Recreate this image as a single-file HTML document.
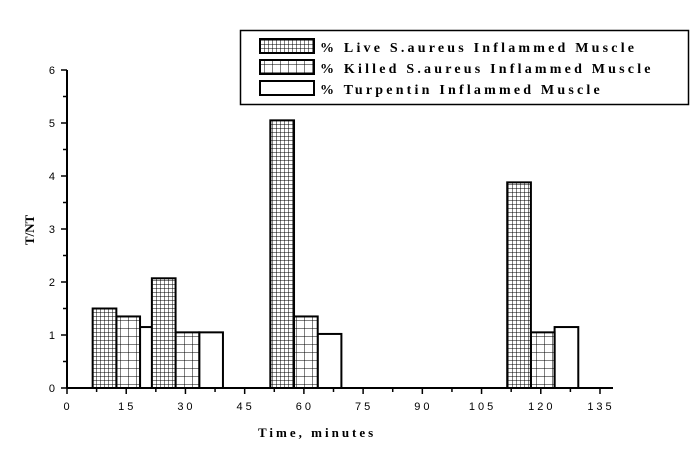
<!DOCTYPE html>
<html><head><meta charset="utf-8"><style>
body{margin:0;background:#fff;}
svg{display:block;font-family:"Liberation Serif",serif;}
</style></head><body>
<svg id="chart" width="700" height="449">
<defs>
<pattern id="fine" width="4" height="4" patternUnits="userSpaceOnUse"><rect width="4" height="4" fill="#fff"/><path d="M0 0H4M0 0V4" stroke="#000" stroke-width="1"/></pattern>
<pattern id="coarse" width="8" height="8" patternUnits="userSpaceOnUse"><rect width="8" height="8" fill="#fff"/><path d="M0 0H8M0 0V8" stroke="#000" stroke-width="1"/></pattern>
</defs>
<g id="bars"></g>
<g id="axes"></g>
<text x="258" y="437" font-size="13" font-weight="bold" letter-spacing="3">Time, minutes</text>
<text transform="translate(34,230) rotate(-90)" text-anchor="middle" font-size="13" font-weight="bold">T/NT</text>
<g>
<rect x="240.5" y="30.5" width="448" height="74" fill="#fff" stroke="#000" stroke-width="1.5"/>
<g><rect x="260" y="39" width="54" height="14" fill="url(#fine)" stroke="#000" stroke-width="2"/><text x="320" y="52" font-size="14" font-weight="bold" letter-spacing="3.2">% Live S.aureus Inflammed Muscle</text></g>
<g><rect x="260" y="60" width="54" height="14" fill="url(#coarse)" stroke="#000" stroke-width="2"/><text x="320" y="73" font-size="14" font-weight="bold" letter-spacing="3.2">% Killed S.aureus Inflammed Muscle</text></g>
<g><rect x="260" y="81" width="54" height="14" fill="#fff" stroke="#000" stroke-width="2"/><text x="320" y="94" font-size="14" font-weight="bold" letter-spacing="3.2">% Turpentin Inflammed Muscle</text></g>
</g>
</svg>
<script>
const times = [15, 30, 60, 120];
const liveVals = [1.5, 2.07, 5.05, 3.88];
const killedVals = [1.35, 1.05, 1.35, 1.05];
const turpVals = [1.15, 1.05, 1.02, 1.15];
const xTicks = [0,15,30,45,60,75,90,105,120,135];
const yTicks = [0,1,2,3,4,5,6];

const X0=67, X1=600, Y0=388, Y1=70;
const xs = v => X0 + v*(X1-X0)/135;
const ys = v => Y0 - v*(Y0-Y1)/6;
const NS="http://www.w3.org/2000/svg";
const bars=document.getElementById('bars'), axes=document.getElementById('axes');
function mk(tag, attrs, parent){const e=document.createElementNS(NS,tag);for(const k in attrs)e.setAttribute(k,attrs[k]);parent.appendChild(e);return e;}
const series=[[turpVals,6,'#fff','bar-turpentin'],[killedVals,0,'url(#coarse)','bar-killed'],[liveVals,-6,'url(#fine)','bar-live']];
series.forEach(([vals,off,fill,name])=>{
  times.forEach((t,i)=>{
    const xl=xs(t+off-2.5), xr=xs(t+off+3.5);
    const r=mk('rect',{x:xl,y:ys(vals[i]),width:xr-xl,height:Y0-ys(vals[i]),fill:fill,stroke:'#000','stroke-width':2},bars);
    
    
  });
});
mk('line',{x1:X0,y1:Y0,x2:613,y2:Y0,stroke:'#000','stroke-width':2},axes);
mk('line',{x1:X0,y1:Y0,x2:X0,y2:Y1,stroke:'#000','stroke-width':2},axes);
xTicks.forEach(t=>{
  mk('line',{x1:xs(t),y1:Y0,x2:xs(t),y2:Y0+6,stroke:'#000','stroke-width':1.5},axes);
  if(t<135) mk('line',{x1:xs(t+7.5),y1:Y0,x2:xs(t+7.5),y2:Y0+4,stroke:'#000','stroke-width':1.5},axes);
  const tx=mk('text',{x:xs(t)+1,y:Y0+22,'text-anchor':'middle','font-size':11,'font-family':'Liberation Sans, sans-serif','letter-spacing':3},axes);
  tx.textContent=t;
  
  
});
yTicks.forEach(v=>{
  mk('line',{x1:X0-6,y1:ys(v),x2:X0,y2:ys(v),stroke:'#000','stroke-width':1.5},axes);
  if(v<6) mk('line',{x1:X0-4,y1:ys(v+0.5),x2:X0,y2:ys(v+0.5),stroke:'#000','stroke-width':1.5},axes);
  const tx=mk('text',{x:X0-12,y:ys(v)+4,'text-anchor':'end','font-size':11,'font-family':'Liberation Sans, sans-serif'},axes);
  tx.textContent=v;
  
  
});
</script>
</body></html>
